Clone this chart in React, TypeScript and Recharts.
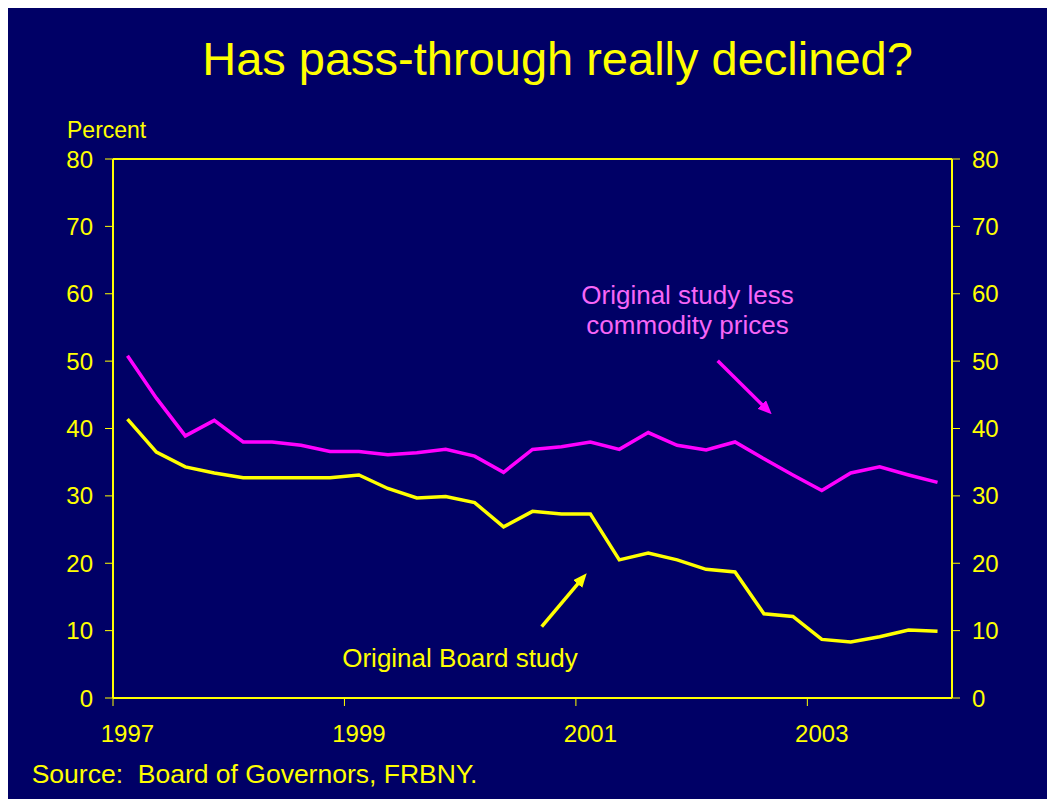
import { LineChart, Line, XAxis, YAxis, ReferenceLine } from "recharts"

// quarterly observations, 1997Q1 - 2004Q1
const QUARTERS = [
  "1997Q1", "1997Q2", "1997Q3", "1997Q4",
  "1998Q1", "1998Q2", "1998Q3", "1998Q4",
  "1999Q1", "1999Q2", "1999Q3", "1999Q4",
  "2000Q1", "2000Q2", "2000Q3", "2000Q4",
  "2001Q1", "2001Q2", "2001Q3", "2001Q4",
  "2002Q1", "2002Q2", "2002Q3", "2002Q4",
  "2003Q1", "2003Q2", "2003Q3", "2003Q4",
  "2004Q1",
]

const BOARD_STUDY = [
  41.4, 36.5, 34.3, 33.4, 32.7, 32.7, 32.7, 32.7,
  33.1, 31.1, 29.7, 29.9, 29.0, 25.4, 27.7, 27.3,
  27.3, 20.5, 21.5, 20.5, 19.1, 18.7, 12.5, 12.1,
  8.7, 8.3, 9.1, 10.1, 9.9,
]

const LESS_COMMODITY = [
  50.8, 44.5, 38.9, 41.2, 38.0, 38.0, 37.5, 36.6,
  36.6, 36.1, 36.4, 36.9, 35.9, 33.5, 36.9, 37.3,
  38.0, 36.9, 39.4, 37.5, 36.8, 38.0, 35.5, 33.1,
  30.8, 33.4, 34.3, 33.1, 32.0,
]

const YEAR_LABELS = ["1997", "1999", "2001", "2003"]
const Y_TICKS = [0, 10, 20, 30, 40, 50, 60, 70, 80]

const NAVY = "#000066"
const YELLOW = "#FFFF00"
const MAGENTA = "#FF00FF"
const PINK_TEXT = "#F766F7"
const FONT = "'Liberation Sans', Arial, Helvetica, sans-serif"

const W = 1047
const H = 791
const LEFT_AXIS_W = 105
const RIGHT_AXIS_W = 103
const TOP = 151
const X_AXIS_H = 101
const PLOT_W = W - LEFT_AXIS_W - RIGHT_AXIS_W
const QW = PLOT_W / QUARTERS.length

const data = QUARTERS.map((q, i) => ({
  q,
  i,
  board: BOARD_STUDY[i],
  lessCommodity: LESS_COMMODITY[i],
}))

// ticks sit on the year boundary, labels in the middle of the first quarter
const yearTicks = YEAR_LABELS.map((y) => QUARTERS.indexOf(y + "Q1") - 0.5)

function YearTick(props: any) {
  const { x, y, payload } = props
  const label = YEAR_LABELS[yearTicks.indexOf(payload.value)]
  return (
    <text x={x + QW / 2} y={y} dy="0.71em" textAnchor="middle" fill={YELLOW} fontSize={24} fontFamily={FONT}>
      {label}
    </text>
  )
}

function Arrow({ x1, y1, x2, y2, color, id }: { x1: number; y1: number; x2: number; y2: number; color: string; id: string }) {
  const len = Math.hypot(x2 - x1, y2 - y1)
  const ux = (x2 - x1) / len
  const uy = (y2 - y1) / len
  return (
    <g>
      <defs>
        <marker id={id} markerWidth="14" markerHeight="12" refX="14" refY="6" orient="auto" markerUnits="userSpaceOnUse">
          <path d="M0,0 L14,6 L0,12 z" fill={color} />
        </marker>
      </defs>
      <line x1={x1} y1={y1} x2={x2 - ux * 6} y2={y2 - uy * 6} stroke={color} strokeWidth={3.5} />
      <line x1={x2 - ux * 7} y1={y2 - uy * 7} x2={x2} y2={y2} stroke="none" markerEnd={`url(#${id})`} />
    </g>
  )
}

export default function App() {
  const axisLine = { stroke: YELLOW, strokeWidth: 2 }
  const tickLine = { stroke: YELLOW, strokeWidth: 1 }
  const tickStyle = { fill: YELLOW, fontSize: 24, fontFamily: FONT }

  return (
    <div style={{ position: "relative", width: W, height: H, background: NAVY, fontFamily: FONT }}>
      <style>{`html, body { overflow: hidden; }`}</style>
      <LineChart
        width={W}
        height={H}
        data={data}
        margin={{ top: TOP, right: 0, bottom: 0, left: 0 }}
      >
        <XAxis
          type="number"
          dataKey="i"
          domain={[-0.5, QUARTERS.length - 0.5]}
          ticks={yearTicks}
          interval={0}
          height={X_AXIS_H}
          axisLine={axisLine}
          tickLine={tickLine}
          tickSize={8}
          tickMargin={19}
          tick={<YearTick />}
        />
        <YAxis
          yAxisId="left"
          domain={[0, 80]}
          ticks={Y_TICKS}
          interval={0}
          width={LEFT_AXIS_W}
          axisLine={axisLine}
          tickLine={tickLine}
          tickSize={8}
          tickMargin={12}
          tick={tickStyle}
        />
        <YAxis
          yAxisId="right"
          orientation="right"
          domain={[0, 80]}
          ticks={Y_TICKS}
          interval={0}
          width={RIGHT_AXIS_W}
          axisLine={axisLine}
          tickLine={tickLine}
          tickSize={8}
          tickMargin={12}
          tick={tickStyle}
        />
        <ReferenceLine yAxisId="left" y={80} stroke={YELLOW} strokeWidth={2} />
        <Line
          yAxisId="left"
          type="linear"
          dataKey="board"
          stroke={YELLOW}
          strokeWidth={3.5}
          dot={false}
          isAnimationActive={false}
        />
        <Line
          yAxisId="right"
          type="linear"
          dataKey="lessCommodity"
          stroke={MAGENTA}
          strokeWidth={3.5}
          dot={false}
          isAnimationActive={false}
        />
      </LineChart>

      <svg
        width={W}
        height={H}
        style={{ position: "absolute", left: 0, top: 0, pointerEvents: "none" }}
        fontFamily={FONT}
      >
        <text x={549.5} y={67} textAnchor="middle" fill={YELLOW} fontSize={47}>
          Has pass-through really declined?
        </text>
        <text x={59} y={129.7} fill={YELLOW} fontSize={23}>
          Percent
        </text>

        <text x={679.5} y={296.3} textAnchor="middle" fill={PINK_TEXT} fontSize={26}>
          Original study less
        </text>
        <text x={679.5} y={326.3} textAnchor="middle" fill={PINK_TEXT} fontSize={26}>
          commodity prices
        </text>
        <Arrow id="arrow-magenta" x1={709.7} y1={352.7} x2={763.7} y2={406.3} color={MAGENTA} />

        <text x={452} y={659.3} textAnchor="middle" fill={YELLOW} fontSize={26}>
          Original Board study
        </text>
        <Arrow id="arrow-yellow" x1={533.7} y1={618.7} x2={578.7} y2={565.3} color={YELLOW} />

        <text x={23.7} y={775.3} fill={YELLOW} fontSize={26.5} style={{ whiteSpace: "pre" }}>
          {"Source:  Board of Governors, FRBNY."}
        </text>
      </svg>
    </div>
  )
}
